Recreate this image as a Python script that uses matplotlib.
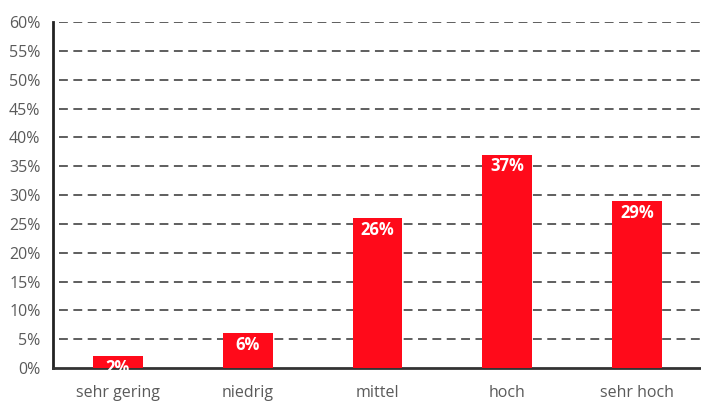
import matplotlib.pyplot as plt

categories = ['sehr gering', 'niedrig', 'mittel', 'hoch', 'sehr hoch']
values = [2, 6, 26, 37, 29]
yticks = list(range(0, 65, 5))

plt.rcParams['font.family'] = ['Open Sans', 'DejaVu Sans']

fig = plt.figure(figsize=(7.01, 4.03), dpi=100)
ax = fig.add_axes([0.0756, 0.0868, 0.924, 0.8586])

x = range(len(categories))
bars = ax.bar(x, values, width=0.385, color='#ff0a1a', zorder=3)

for rect, v in zip(bars, values):
    ax.annotate(f'{v}%', xy=(rect.get_x() + rect.get_width() / 2, rect.get_height()),
                xytext=(0, -2), textcoords='offset points', ha='center', va='top',
                color='white', fontsize=12, fontweight='bold', zorder=4)

ax.set_xlim(-0.5, 4.49)
ax.set_ylim(0, 60)
ax.set_yticks(yticks)
ax.set_yticklabels([f'{t}%' for t in yticks])
ax.set_xticks(list(x))
ax.set_xticklabels(categories)

# dashed grid, starting a little right of the y axis
ax.hlines(yticks[1:], -0.45, 4.49, colors='#333333', linestyles=(0, (5.8, 3.6)),
          linewidth=1.1, zorder=1)

for s in ['top', 'right']:
    ax.spines[s].set_visible(False)
ax.spines['left'].set_linewidth(2)
ax.spines['left'].set_color('#222222')
ax.spines['bottom'].set_linewidth(2)
ax.spines['bottom'].set_color('#333333')

ax.tick_params(axis='both', length=0, labelsize=11.5, colors='#5a5a5a')
ax.tick_params(axis='y', pad=9)
ax.tick_params(axis='x', pad=12)

fig.savefig('out.png', dpi=100)
